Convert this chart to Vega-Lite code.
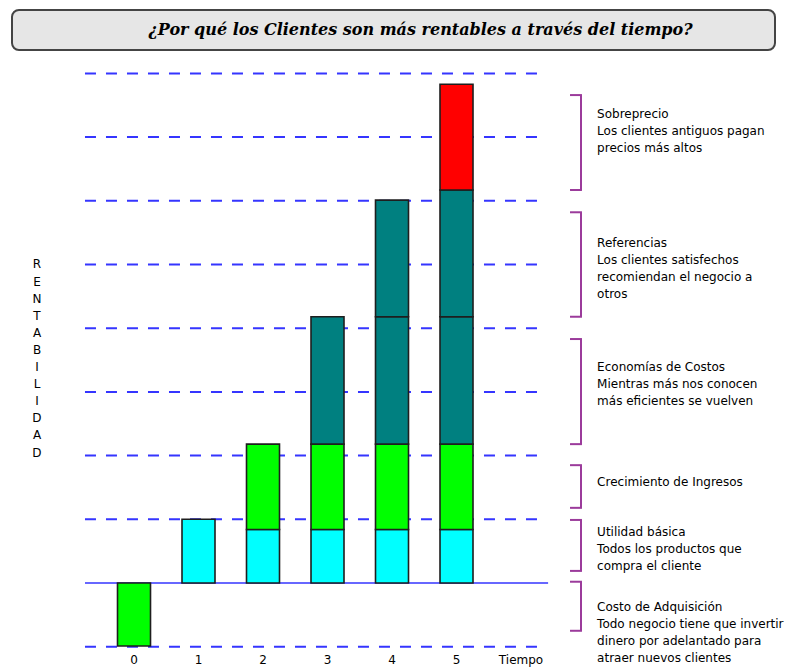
{
  "$schema": "https://vega.github.io/schema/vega-lite/v6.json",
  "background": "white",
  "padding": {"left": 11, "top": 9, "right": 0, "bottom": 0},
  "spacing": 4,
  "config": {"view": {"stroke": null}},
  "vconcat": [
    {
      "width": 763,
      "height": 40,
      "view": {"fill": "#e6e6e6", "stroke": "#444444", "strokeWidth": 2, "cornerRadius": 7},
      "data": {"values": [{"title": "¿Por qué los Clientes son más rentables a través del tiempo?"}]},
      "mark": {"type": "text", "font": "DejaVu Serif", "fontStyle": "italic", "fontWeight": "bold", "fontSize": 16, "color": "#000000", "dx": 27, "baseline": "middle", "align": "center"},
      "encoding": {"text": {"field": "title"}}
    },
    {
      "width": 795,
      "height": 614,
      "layer": [
        {
          "data": {"values": [{"g": -1}, {"g": 1}, {"g": 2}, {"g": 3}, {"g": 4}, {"g": 5}, {"g": 6}, {"g": 7}, {"g": 8}]},
          "mark": {"type": "rule", "color": "#3535ff", "strokeWidth": 2, "strokeDash": [11, 10]},
          "encoding": {
            "y": {"field": "g", "type": "quantitative", "scale": {"domain": [-1.35, 8.289], "nice": false, "zero": false, "padding": 0}, "axis": null},
            "x": {"datum": -0.76, "type": "quantitative", "scale": {"domain": [-1.8915, 10.434], "nice": false, "zero": false, "padding": 0}, "axis": null},
            "x2": {"datum": 6.37}
          }
        },
        {
          "data": {"values": [{"g": 0}]},
          "mark": {"type": "rule", "color": "#3535ff", "strokeWidth": 1.5},
          "encoding": {
            "y": {"field": "g", "type": "quantitative"},
            "x": {"datum": -0.76, "type": "quantitative"},
            "x2": {"datum": 6.42}
          }
        },
        {
          "data": {"values": [
            {"t": 0, "seg": "Costo de Adquisición", "lo": 0, "hi": -0.99},
            {"t": 1, "seg": "Utilidad básica", "lo": 0, "hi": 1.0},
            {"t": 2, "seg": "Utilidad básica", "lo": 0, "hi": 0.84},
            {"t": 2, "seg": "Crecimiento de Ingresos", "lo": 0.84, "hi": 2.18},
            {"t": 3, "seg": "Utilidad básica", "lo": 0, "hi": 0.84},
            {"t": 3, "seg": "Crecimiento de Ingresos", "lo": 0.84, "hi": 2.18},
            {"t": 3, "seg": "Economías de Costos", "lo": 2.18, "hi": 4.18},
            {"t": 4, "seg": "Utilidad básica", "lo": 0, "hi": 0.84},
            {"t": 4, "seg": "Crecimiento de Ingresos", "lo": 0.84, "hi": 2.18},
            {"t": 4, "seg": "Economías de Costos", "lo": 2.18, "hi": 4.18},
            {"t": 4, "seg": "Referencias", "lo": 4.18, "hi": 6.01},
            {"t": 5, "seg": "Utilidad básica", "lo": 0, "hi": 0.84},
            {"t": 5, "seg": "Crecimiento de Ingresos", "lo": 0.84, "hi": 2.18},
            {"t": 5, "seg": "Economías de Costos", "lo": 2.18, "hi": 4.18},
            {"t": 5, "seg": "Referencias", "lo": 4.18, "hi": 6.17},
            {"t": 5, "seg": "Sobreprecio", "lo": 6.17, "hi": 7.83}
          ]},
          "mark": {"type": "bar", "width": 33, "stroke": "#1e1e1e", "strokeWidth": 1.6},
          "encoding": {
            "x": {"field": "t", "type": "quantitative"},
            "y": {"field": "lo", "type": "quantitative"},
            "y2": {"field": "hi"},
            "color": {
              "field": "seg", "type": "nominal", "legend": null,
              "scale": {
                "domain": ["Costo de Adquisición", "Utilidad básica", "Crecimiento de Ingresos", "Economías de Costos", "Referencias", "Sobreprecio"],
                "range": ["#00ff00", "#00ffff", "#00ff00", "#008080", "#008080", "#ff0000"]
              }
            }
          }
        },
        {
          "data": {"name": "notes", "values": [
            {"lo": 6.17, "hi": 7.66, "ty": 7.443, "label": "Sobreprecio\nLos clientes antiguos pagan\nprecios más altos"},
            {"lo": 4.18, "hi": 5.82, "ty": 5.413, "label": "Referencias\nLos clientes satisfechos\nrecomiendan el negocio a\notros"},
            {"lo": 2.18, "hi": 3.83, "ty": 3.473, "label": "Economías de Costos\nMientras más nos conocen\nmás eficientes se vuelven"},
            {"lo": 1.18, "hi": 1.85, "ty": 1.663, "label": "Crecimiento de Ingresos"},
            {"lo": 0.19, "hi": 0.99, "ty": 0.883, "label": "Utilidad básica\nTodos los productos que\ncompra el cliente"},
            {"lo": -0.75, "hi": 0.02, "ty": -0.297, "label": "Costo de Adquisición\nTodo negocio tiene que invertir\ndinero por adelantado para\natraer nuevos clientes"}
          ]},
          "layer": [
            {
              "mark": {"type": "rule", "color": "#9b3b9b", "strokeWidth": 2},
              "encoding": {
                "x": {"datum": 6.93, "type": "quantitative"},
                "y": {"field": "lo", "type": "quantitative"},
                "y2": {"field": "hi"}
              }
            },
            {
              "mark": {"type": "rule", "color": "#9b3b9b", "strokeWidth": 2},
              "encoding": {
                "x": {"datum": 6.76, "type": "quantitative"},
                "x2": {"datum": 6.945},
                "y": {"field": "hi", "type": "quantitative"}
              }
            },
            {
              "mark": {"type": "rule", "color": "#9b3b9b", "strokeWidth": 2},
              "encoding": {
                "x": {"datum": 6.76, "type": "quantitative"},
                "x2": {"datum": 6.945},
                "y": {"field": "lo", "type": "quantitative"}
              }
            },
            {
              "mark": {"type": "text", "align": "left", "baseline": "top", "lineBreak": "\n", "lineHeight": 17, "font": "DejaVu Sans", "fontSize": 12, "color": "#000000"},
              "encoding": {
                "x": {"datum": 7.18, "type": "quantitative"},
                "y": {"field": "ty", "type": "quantitative"},
                "text": {"field": "label"}
              }
            }
          ]
        },
        {
          "data": {"values": [
            {"t": 0, "lbl": "0"}, {"t": 1, "lbl": "1"}, {"t": 2, "lbl": "2"}, {"t": 3, "lbl": "3"}, {"t": 4, "lbl": "4"}, {"t": 5, "lbl": "5"}, {"t": 6, "lbl": "Tiempo"}
          ]},
          "mark": {"type": "text", "align": "center", "baseline": "middle", "font": "DejaVu Sans", "fontSize": 12, "color": "#000000"},
          "encoding": {
            "x": {"field": "t", "type": "quantitative"},
            "y": {"datum": -1.21, "type": "quantitative"},
            "text": {"field": "lbl"}
          }
        },
        {
          "data": {"values": [{"pos": -1.504, "top": 5.08, "word": "R\nE\nN\nT\nA\nB\nI\nL\nI\nD\nA\nD"}]},
          "mark": {"type": "text", "align": "center", "baseline": "top", "lineBreak": "\n", "lineHeight": 17.1, "font": "DejaVu Sans", "fontSize": 12, "color": "#000000"},
          "encoding": {
            "x": {"field": "pos", "type": "quantitative"},
            "y": {"field": "top", "type": "quantitative"},
            "text": {"field": "word"}
          }
        }
      ]
    }
  ]
}
